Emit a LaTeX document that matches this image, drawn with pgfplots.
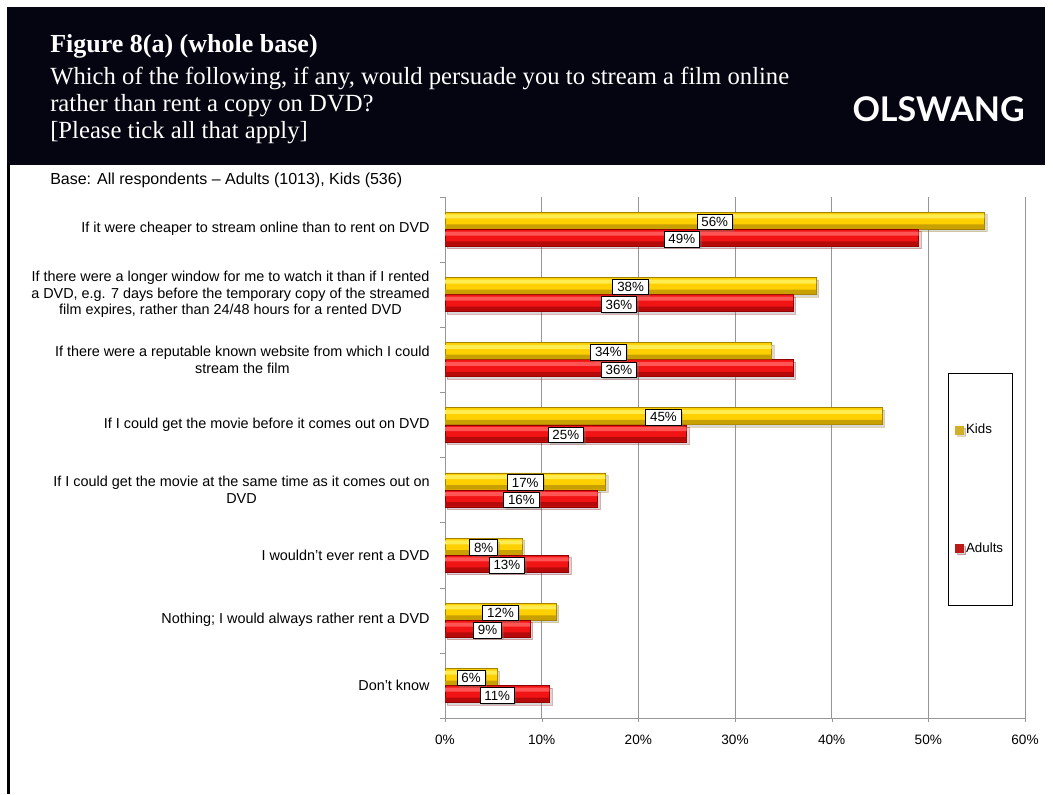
\documentclass[border=0pt]{standalone}
\usepackage{pgfplots}
\pgfplotsset{compat=1.18}
\usepackage{pgfplotstable}
\usepackage{fontspec}
\setmainfont{Liberation Sans}
\newfontfamily\headfont{Liberation Serif}
\newfontfamily\logofont{Lato}
\usetikzlibrary{shadows}
\definecolor{headbg}{RGB}{5,5,18}
\definecolor{kidsmid}{RGB}{255,208,0}
\definecolor{kidstop}{RGB}{255,236,80}
\definecolor{kidsbot}{RGB}{200,160,0}
\definecolor{kidsline}{RGB}{165,130,0}
\definecolor{adumid}{RGB}{242,20,20}
\definecolor{adutop}{RGB}{255,85,85}
\definecolor{adubot}{RGB}{182,10,10}
\definecolor{aduline}{RGB}{145,0,0}
\definecolor{gridgray}{RGB}{150,150,150}
\definecolor{kidsleg}{RGB}{210,175,40}
\definecolor{aduleg}{RGB}{190,25,25}

\pgfplotstableread{
k kids adults kl al
8 55.8 49.0 56 49
7 38.4 36.0 38 36
6 33.8 36.0 34 36
5 45.2 25.0 45 25
4 16.6 15.8 17 16
3 8.0 12.8 8 13
2 11.5 8.8 12 9
1 5.4 10.8 6 11
}\datatable

\begin{document}
\begin{tikzpicture}
\useasboundingbox (0,0) rectangle (789.75pt,-595.5pt);
\fill[white] (0,0) rectangle (789.75pt,-595.5pt);
\fill[headbg] (5.25pt,-5.25pt) rectangle (783.75pt,-123.75pt);
\draw[black, line width=2.2pt] (6.3pt,-123pt) -- (6.3pt,-595.5pt);
\node[anchor=base west, inner sep=0pt, text=white, font=\headfont\bfseries\fontsize{19.5}{22}\selectfont] at (37.5pt,-39.5pt) {Figure 8(a) (whole base)};
\node[anchor=base west, inner sep=0pt, text=white, font=\headfont\fontsize{18.5}{22}\selectfont] at (37.5pt,-63.5pt) {Which of the following, if any, would persuade you to stream a film online};
\node[anchor=base west, inner sep=0pt, text=white, font=\headfont\fontsize{18.5}{22}\selectfont] at (37.5pt,-83.75pt) {rather than rent a copy on DVD?};
\node[anchor=base west, inner sep=0pt, text=white, font=\headfont\fontsize{18.5}{22}\selectfont] at (37.5pt,-104pt) {[Please tick all that apply]};
\node[anchor=base east, inner sep=0pt, text=white, font=\logofont\bfseries\fontsize{25.5}{28}\selectfont] at (768.75pt,-90.75pt) {OLSWANG};
\node[anchor=base west, inner sep=0pt, font=\fontsize{12}{14}\selectfont] at (37.5pt,-138.5pt) {Base: All respondents -- Adults (1013), Kids (536)};

\begin{axis}[
  at={(333.75pt,-538.5pt)}, anchor=south west,
  width=435pt, height=391pt, scale only axis,
  xmin=0, xmax=60, ymin=0.5, ymax=8.5,
  bar width=12.75pt,
  axis x line*=bottom, axis y line*=left,
  axis line style={gridgray, -},
  /pgf/number format/assume math mode=true,
  xtick={0,10,...,60},
  xticklabel={\pgfmathprintnumber{\tick}\%},
  xmajorgrids, major grid style={gridgray, line width=0.6pt},
  major tick length=0pt,
  ytick={1,...,8},
  yticklabels={{Don't know},
    {Nothing; I would always rather rent a DVD},
    {I wouldn't ever rent a DVD},
    {If I could get the movie at the same time as it comes out on\\DVD},
    {If I could get the movie before it comes out on DVD},
    {If there were a reputable known website from which I could\\stream the film},
    {If there were a longer window for me to watch it than if I rented\\a DVD, e.g. 7 days before the temporary copy of the streamed\\film expires, rather than 24/48 hours for a rented DVD},
    {If it were cheaper to stream online than to rent on DVD}},
  yticklabel style={align=center, font=\fontsize{10.8}{12.4}\selectfont, xshift=-8pt},
  xticklabel style={font=\fontsize{10.2}{12}\selectfont, yshift=-9pt},
  extra y ticks={0.5,1.5,...,8.5}, extra y tick labels={},
  extra y tick style={major tick length=3.5pt, tick align=outside, tick style={gridgray}},
  extra x ticks={0,10,...,60}, extra x tick labels={},
  extra x tick style={major tick length=3pt, tick align=outside, grid=none, tick style={gridgray}},
  legend style={at={(0.923,0.439)}, anchor=center, draw=black, fill=white,
    font=\fontsize{10}{12}\selectfont, row sep=76pt, inner xsep=5pt, inner ysep=36pt,
    cells={anchor=west}},
  clip=false,
]
\addplot[xbar, bar shift=6.4pt, fill=kidsmid, draw=kidsline, line width=0.4pt,
  drop shadow={shadow xshift=1.8pt, shadow yshift=-1.8pt, opacity=0.3},
  legend image code/.code={\fill[kidsleg] (0pt,-3pt) rectangle (6pt,3pt);}]
  table[x=kids, y=k] {\datatable};
\addlegendentry{Kids}
\addplot[xbar, bar shift=-6.4pt, fill=adumid, draw=aduline, line width=0.4pt,
  drop shadow={shadow xshift=1.8pt, shadow yshift=-1.8pt, opacity=0.3},
  legend image code/.code={\fill[aduleg] (0pt,-3pt) rectangle (6pt,3pt);}]
  table[x=adults, y=k] {\datatable};
\addlegendentry{Adults}
% highlight and shade stripes for the bevelled look
\addplot[xbar, forget plot, bar width=3pt, bar shift=9.6pt, fill=kidstop, draw=none]
  table[x=kids, y=k] {\datatable};
\addplot[xbar, forget plot, bar width=3.4pt, bar shift=1.95pt, fill=kidsbot, draw=none]
  table[x=kids, y=k] {\datatable};
\addplot[xbar, forget plot, bar width=3pt, bar shift=-3.2pt, fill=adutop, draw=none]
  table[x=adults, y=k] {\datatable};
\addplot[xbar, forget plot, bar width=3.4pt, bar shift=-10.85pt, fill=adubot, draw=none]
  table[x=adults, y=k] {\datatable};
% value labels in the middle of each bar
\addplot[draw=none, mark=none, forget plot, nodes near coords={\pgfplotspointmeta\%}, point meta=explicit symbolic,
  every node near coord/.style={anchor=center, yshift=5.6pt, fill=white, draw=black, line width=0.6pt, text=black,
    inner xsep=3.3pt, inner ysep=2.3pt, font=\fontsize{10}{11}\selectfont,
    drop shadow={shadow xshift=1.5pt, shadow yshift=-1.5pt, opacity=0.3}}]
  table[x expr=\thisrow{kids}/2, y=k, meta=kl] {\datatable};
\addplot[draw=none, mark=none, forget plot, nodes near coords={\pgfplotspointmeta\%}, point meta=explicit symbolic,
  every node near coord/.style={anchor=center, yshift=-7.6pt, fill=white, draw=black, line width=0.6pt, text=black,
    inner xsep=3.3pt, inner ysep=2.3pt, font=\fontsize{10}{11}\selectfont,
    drop shadow={shadow xshift=1.5pt, shadow yshift=-1.5pt, opacity=0.3}}]
  table[x expr=\thisrow{adults}/2, y=k, meta=al] {\datatable};
\end{axis}
\end{tikzpicture}
\end{document}
